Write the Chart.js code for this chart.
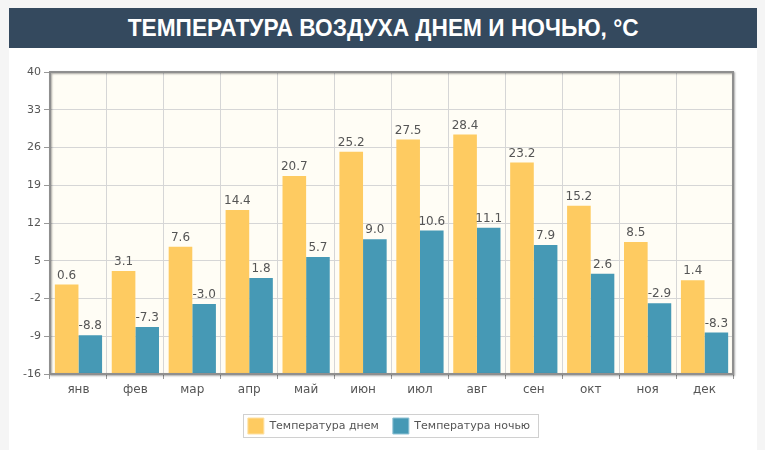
<!DOCTYPE html>
<html>
<head>
<meta charset="utf-8">
<script src="https://cdn.jsdelivr.net/npm/chart.js@4.4.1/dist/chart.umd.min.js"></script>
<style>
  html, body { margin:0; padding:0; }
  body { width:765px; height:450px; background:#f5f5f5; position:relative; overflow:hidden; }
  #card { position:absolute; left:9px; top:8px; width:748px; height:442px; background:#ffffff; }
  #title { position:absolute; left:0; top:0; width:748px; height:40px; background:#34495e;
           color:#fff; font-family:"Liberation Sans", Arial, sans-serif; font-weight:bold; font-size:24px;
           line-height:40px; text-align:center; white-space:nowrap; overflow:hidden; }
  #title span { display:inline-block; transform-origin:center center; }
  #wrap { position:absolute; left:0; top:40px; width:748px; height:402px; }
</style>
</head>
<body>
<div id="card">
  <div id="title"><span id="tt">ТЕМПЕРАТУРА ВОЗДУХА ДНЕМ И НОЧЬЮ, °C</span></div>
  <div id="wrap"><canvas id="c" width="748" height="402"></canvas></div>
</div>
<script>
const categories = ["янв","фев","мар","апр","май","июн","июл","авг","сен","окт","ноя","дек"];
const dayTemps = [0.6, 3.1, 7.6, 14.4, 20.7, 25.2, 27.5, 28.4, 23.2, 15.2, 8.5, 1.4];
const nightTemps = [-8.8, -7.3, -3.0, 1.8, 5.7, 9.0, 10.6, 11.1, 7.9, 2.6, -2.9, -8.3];
const yTicks = [-16, -9, -2, 5, 12, 19, 26, 33, 40];
const seriesNames = ["Температура днем", "Температура ночью"];

// fit title width
(function(){
  const s = document.getElementById('tt');
  const w = s.getBoundingClientRect().width;
  s.style.transform = 'scaleX(' + (511 / w) + ')';
})();

const FONT = "'DejaVu Sans', Verdana, sans-serif";
const TXT = '#555555';
const legendRing = ['#fde0a3', '#8fc2d4'];

const frameAndLabels = {
  id: 'frameAndLabels',
  afterLayout(chart) {
    const lg = chart.legend;
    if (lg) { lg.left += 18; lg.right += 18; }
  },
  beforeDraw(chart) {
    const a = chart.chartArea, ctx = chart.ctx;
    ctx.save();
    ctx.fillStyle = '#fffdf5';
    ctx.fillRect(a.left, a.top, a.right - a.left, a.bottom - a.top);
    ctx.restore();
  },
  afterDatasetsDraw(chart) {
    const a = chart.chartArea, ctx = chart.ctx;
    ctx.save();
    ctx.shadowColor = 'rgba(0,0,0,0.35)';
    ctx.shadowBlur = 2;
    ctx.shadowOffsetX = 1;
    ctx.shadowOffsetY = 1;
    ctx.strokeStyle = '#8f8f8f';
    ctx.lineWidth = 2;
    ctx.strokeRect(a.left, a.top, a.right - a.left, a.bottom - a.top);
    ctx.restore();
    ctx.save();
    ctx.font = '12px ' + FONT;
    ctx.fillStyle = TXT;
    ctx.textAlign = 'center';
    ctx.textBaseline = 'bottom';
    chart.data.datasets.forEach((ds, di) => {
      const meta = chart.getDatasetMeta(di);
      meta.data.forEach((el, i) => {
        ctx.fillText(ds.data[i].toFixed(1), el.x, el.y - 3);
      });
    });
    ctx.restore();
  },
  afterDraw(chart) {
    const ctx = chart.ctx;
    ctx.save();
    ctx.strokeStyle = '#d0d0d0';
    ctx.lineWidth = 1;
    ctx.strokeRect(234.5, 366.5, 295, 23);
    ctx.restore();
  }
};

new Chart(document.getElementById('c'), {
  type: 'bar',
  data: {
    labels: categories,
    datasets: [
      { label: seriesNames[0], data: dayTemps, base: -16, backgroundColor: '#fecb61', borderWidth: 0 },
      { label: seriesNames[1], data: nightTemps, base: -16, backgroundColor: '#4699b5', borderWidth: 0 }
    ]
  },
  options: {
    responsive: false,
    animation: false,
    devicePixelRatio: 1,
    layout: { padding: { left: 0, top: 24, right: 24, bottom: 6 } },
    datasets: { bar: { categoryPercentage: 0.83, barPercentage: 1.0 } },
    plugins: {
      title: { display: false },
      tooltip: { enabled: false },
      legend: {
        position: 'bottom',
        labels: {
          font: { family: FONT, size: 11 },
          color: TXT,
          boxWidth: 16,
          boxHeight: 16,
          padding: 14,
          useBorderRadius: false,
          generateLabels(chart) {
            const items = Chart.defaults.plugins.legend.labels.generateLabels(chart);
            items.forEach((it, i) => { it.lineWidth = 1; it.strokeStyle = legendRing[i]; });
            return items;
          }
        }
      }
    },
    scales: {
      x: {
        grid: { color: '#d6d6d6', offset: true, drawTicks: true, tickLength: 5, tickColor: '#999' },
        border: { display: false },
        ticks: { font: { family: FONT, size: 12 }, color: TXT, padding: 4 },
        afterFit(scale) { scale.height = 30; }
      },
      y: {
        min: -16, max: 40,
        afterBuildTicks(scale) { scale.ticks = yTicks.map(v => ({ value: v })); },
        grid: { color: '#d6d6d6', drawTicks: true, tickLength: 6, tickColor: '#999' },
        border: { display: false },
        ticks: { font: { family: FONT, size: 11 }, color: TXT, padding: 3 },
        afterFit(scale) { scale.width = 41; }
      }
    }
  },
  plugins: [frameAndLabels]
});
</script>
</body>
</html>
